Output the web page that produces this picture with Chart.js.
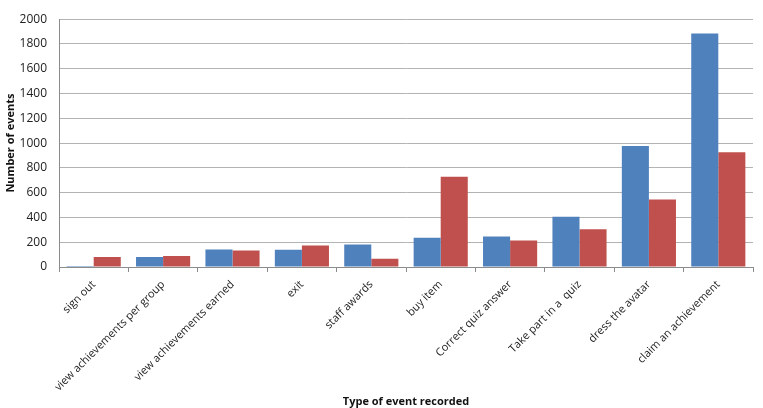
<!DOCTYPE html>
<html>
<head>
<meta charset="utf-8">
<script src="https://cdn.jsdelivr.net/npm/chart.js@4"></script>
<style>
  html, body { margin: 0; padding: 0; background: #fff; }
  #wrap { width: 763px; height: 408px; }
</style>
</head>
<body>
<div id="wrap"><canvas id="eventChart" width="763" height="408"></canvas></div>
<script>
// --- DATA ---
const eventTypes = [
    'sign out', 'view achievements per group', 'view achievements earned', 'exit',
    'staff awards', 'buy item', 'Correct quiz answer', 'Take part in a  quiz',
    'dress the avatar', 'claim an achievement'
];
const seriesBlue = [8, 80, 142, 140, 182, 236, 247, 405, 977, 1885];
const seriesRed = [80, 88, 134, 174, 67, 728, 214, 305, 544, 927];
const yTicks = [0, 200, 400, 600, 800, 1000, 1200, 1400, 1600, 1800, 2000];

const FONT = 'Open Sans';

const ctx = document.getElementById('eventChart').getContext('2d');
new Chart(ctx, {
    type: 'bar',
    data: {
        labels: eventTypes,
        datasets: [
            { label: 'Series 1', data: seriesBlue, backgroundColor: '#4F81BD' },
            { label: 'Series 2', data: seriesRed, backgroundColor: '#C0504D' }
        ]
    },
    options: {
        responsive: false,
        animation: false,
        layout: { padding: { left: 4, right: 10, top: 10, bottom: 0 } },
        datasets: { bar: { categoryPercentage: 0.78, barPercentage: 1.0 } },
        plugins: { legend: { display: false }, tooltip: { enabled: false } },
        scales: {
            x: {
                afterFit: (scale) => { scale.height = 141; },
                grid: { drawOnChartArea: false, color: '#8c8c8c', tickLength: 5, offset: true },
                border: { color: '#8c8c8c' },
                ticks: {
                    color: '#222', minRotation: 45, maxRotation: 45, autoSkip: false,
                    font: { family: FONT, size: 11 }, padding: 6
                },
                title: {
                    display: true, text: 'Type of event recorded', color: '#111',
                    font: { family: FONT, size: 11, weight: 'bold' }, padding: { top: 0, bottom: 0 }
                }
            },
            y: {
                min: 0, max: 2000,
                afterFit: (scale) => { scale.width = 55; },
                afterBuildTicks: (scale) => { scale.ticks = yTicks.map(v => ({ value: v })); },
                grid: { color: '#b3b3b3', drawTicks: false },
                border: { color: '#8c8c8c' },
                ticks: {
                    color: '#222', font: { family: FONT, size: 12 }, padding: 12,
                    callback: (v) => String(v)
                },
                title: {
                    display: true, text: 'Number of events', color: '#111',
                    font: { family: FONT, size: 11, weight: 'bold' }, padding: { top: 0, bottom: 0 }
                }
            }
        }
    }
});
</script>
</body>
</html>
